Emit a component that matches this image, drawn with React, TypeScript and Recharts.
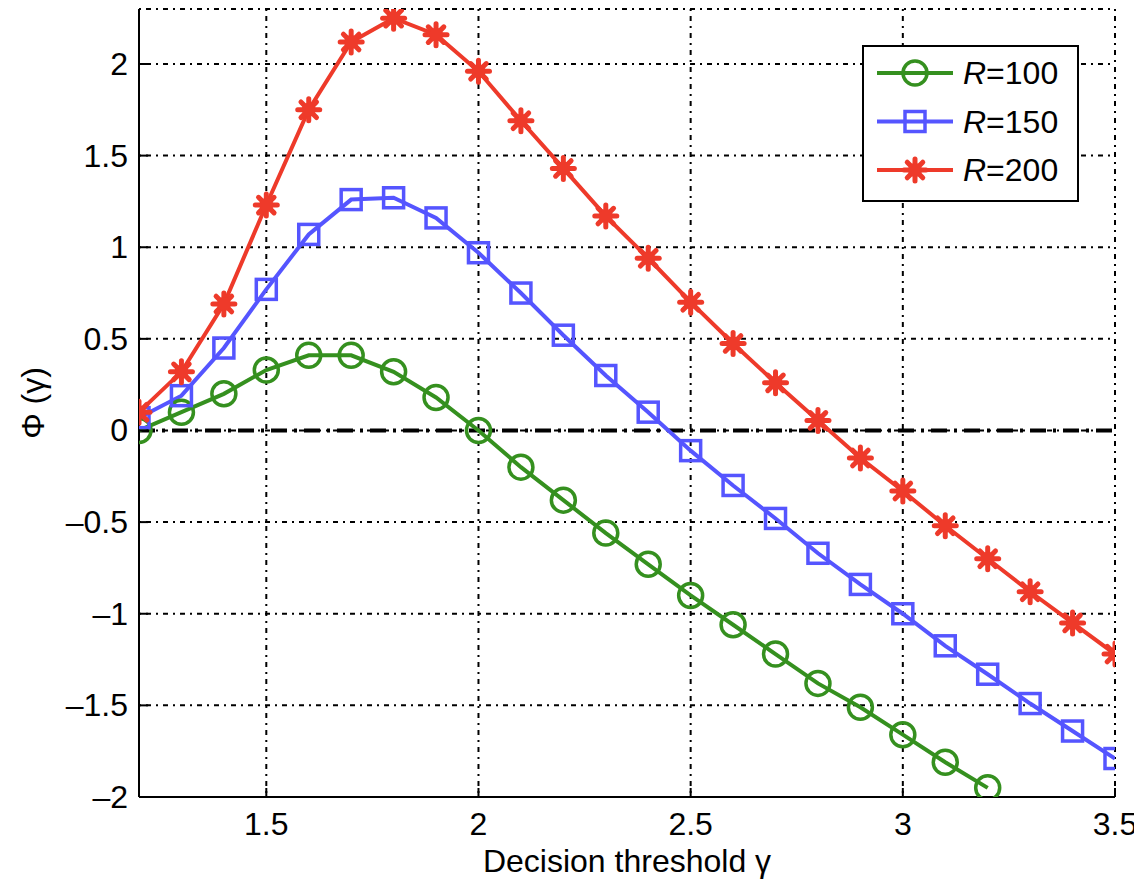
import React from "react";
import {
  LineChart,
  Line,
  XAxis,
  YAxis,
  CartesianGrid,
  ReferenceLine,
  Legend,
} from "recharts";

// decision threshold values (x)
const gamma = [
  1.2, 1.3, 1.4, 1.5, 1.6, 1.7, 1.8, 1.9, 2.0, 2.1, 2.2, 2.3, 2.4, 2.5, 2.6,
  2.7, 2.8, 2.9, 3.0, 3.1, 3.2, 3.3, 3.4, 3.5,
];

// Phi(gamma) for each R
const r100 = [
  0.0, 0.1, 0.2, 0.33, 0.41, 0.41, 0.32, 0.18, 0.0, -0.2, -0.38, -0.56, -0.73,
  -0.9, -1.06, -1.22, -1.38, -1.51, -1.66, -1.81, -1.95,
];
const r150 = [
  0.07, 0.19, 0.45, 0.77, 1.07, 1.26, 1.27, 1.16, 0.97, 0.75, 0.52, 0.3, 0.1,
  -0.11, -0.3, -0.48, -0.67, -0.84, -1.0, -1.175, -1.33, -1.49, -1.64, -1.79,
];
const r200 = [
  0.1, 0.32, 0.69, 1.23, 1.75, 2.12, 2.25, 2.16, 1.96, 1.69, 1.43, 1.17, 0.94,
  0.7, 0.475, 0.26, 0.055, -0.15, -0.33, -0.52, -0.7, -0.88, -1.05, -1.22,
];

const xTicks = [1.5, 2, 2.5, 3, 3.5];
const yTicks = [-2, -1.5, -1, -0.5, 0, 0.5, 1, 1.5, 2];

const FONT = '"Liberation Sans", Arial, Helvetica, sans-serif';
const FS = 32;
const TICK_LEN = 9;

const toRows = (vals: number[]) => vals.map((v, i) => ({ gamma: gamma[i], phi: v }));

type Shape = "circle" | "square" | "star";

const series: { name: string; values: number[]; color: string; shape: Shape }[] = [
  { name: "100", values: r100, color: "#35901f", shape: "circle" },
  { name: "150", values: r150, color: "#5555ff", shape: "square" },
  { name: "200", values: r200, color: "#ee3a2a", shape: "star" },
];

const fmt = (v: number) => (v < 0 ? "\u2013" + String(-v) : String(v));

function marker(shape: Shape, cx: number, cy: number, color: string, key?: React.Key) {
  if (shape === "circle") {
    return <circle key={key} cx={cx} cy={cy} r={12} fill="none" stroke={color} strokeWidth={3.5} />;
  }
  if (shape === "square") {
    return (
      <rect key={key} x={cx - 10} y={cy - 10} width={20} height={20} fill="none" stroke={color} strokeWidth={3.5} />
    );
  }
  const r = 11;
  const d = r * 0.7071;
  return (
    <g key={key} stroke={color} strokeWidth={5} strokeLinecap="round">
      <line x1={cx - r} y1={cy} x2={cx + r} y2={cy} />
      <line x1={cx} y1={cy - r} x2={cx} y2={cy + r} />
      <line x1={cx - d} y1={cy - d} x2={cx + d} y2={cy + d} />
      <line x1={cx - d} y1={cy + d} x2={cx + d} y2={cy - d} />
      <circle cx={cx} cy={cy} r={7} fill={color} stroke="none" />
    </g>
  );
}

const makeDot = (shape: Shape, color: string) => (props: any) => {
  const { cx, cy, index } = props;
  if (cx == null || cy == null) return <g key={index} />;
  return marker(shape, cx, cy, color, index);
};

const LeftTick = (props: any) => {
  const { x, y, payload } = props;
  const ax = x + 11;
  return (
    <g>
      <line x1={ax} y1={y} x2={ax + TICK_LEN} y2={y} stroke="#000" strokeWidth={2} />
      <text x={x} y={y} textAnchor="end" dominantBaseline="central" fontFamily={FONT} fontSize={FS} fill="#000">
        {fmt(payload.value)}
      </text>
    </g>
  );
};

const BottomTick = (props: any) => {
  const { x, y, payload } = props;
  const ay = y - 15;
  return (
    <g>
      <line x1={x} y1={ay} x2={x} y2={ay - TICK_LEN} stroke="#000" strokeWidth={2} />
      <text x={x} y={y + 12} textAnchor="middle" dominantBaseline="central" fontFamily={FONT} fontSize={FS} fill="#000">
        {fmt(payload.value)}
      </text>
    </g>
  );
};

const TopTick = (props: any) => {
  const { x, y } = props;
  return <line x1={x} y1={y} x2={x} y2={y + TICK_LEN} stroke="#000" strokeWidth={2} />;
};

const RightTick = (props: any) => {
  const { x, y } = props;
  return <line x1={x} y1={y} x2={x - TICK_LEN} y2={y} stroke="#000" strokeWidth={2} />;
};

const YLabel = (props: any) => {
  const vb = props.viewBox || {};
  const x = vb.x + 25;
  const y = vb.y + vb.height / 2;
  return (
    <text
      x={x}
      y={y}
      transform={`rotate(-90, ${x}, ${y})`}
      textAnchor="middle"
      dominantBaseline="central"
      fontFamily={FONT}
      fontSize={FS}
      fill="#000"
    >
      {"\u03A6 (\u03B3)"}
    </text>
  );
};

const XLabel = (props: any) => {
  const vb = props.viewBox || {};
  const x = vb.x + vb.width / 2;
  const y = vb.y + 75;
  return (
    <text x={x} y={y} textAnchor="middle" fontFamily={FONT} fontSize={FS} fill="#000">
      Decision threshold {"\u03B3"}
    </text>
  );
};

const LegendBox = () => (
  <svg width={217} height={157} style={{ display: "block" }}>
    <rect x={1} y={1} width={215} height={155} fill="#fff" stroke="#000" strokeWidth={2} />
    {series.map((s, i) => {
      const cy = 28 + i * 48.5;
      return (
        <g key={s.name}>
          <line x1={15} y1={cy} x2={91} y2={cy} stroke={s.color} strokeWidth={4} />
          {marker(s.shape, 53, cy, s.color)}
          <text x={101} y={cy} dominantBaseline="central" fontFamily={FONT} fontSize={FS} fill="#000">
            <tspan fontStyle="italic">R</tspan>={s.name}
          </text>
        </g>
      );
    })}
  </svg>
);

export default function App() {
  return (
    <LineChart
      width={1134}
      height={871}
      margin={{ top: 1, right: 27, bottom: 0, left: 0 }}
      style={{ fontFamily: FONT }}
    >
      <CartesianGrid stroke="#000" strokeWidth={2} strokeDasharray="2 5 5 5" xAxisId="x" yAxisId="y" />
      <XAxis
        xAxisId="x"
        dataKey="gamma"
        type="number"
        domain={[1.2, 3.5]}
        ticks={xTicks}
        allowDataOverflow
        height={82}
        tickSize={0}
        tickMargin={15}
        tickLine={false}
        tick={<BottomTick />}
        axisLine={{ stroke: "#000", strokeWidth: 2 }}
        label={<XLabel />}
      />
      <XAxis
        xAxisId="top"
        orientation="top"
        type="number"
        domain={[1.2, 3.5]}
        ticks={xTicks}
        allowDataOverflow
        height={0}
        tickSize={0}
        tickMargin={0}
        tickLine={false}
        tick={<TopTick />}
        axisLine={{ stroke: "#000", strokeWidth: 2 }}
      />
      <YAxis
        yAxisId="y"
        type="number"
        domain={[-2, 2.3]}
        ticks={yTicks}
        allowDataOverflow
        width={131}
        tickSize={0}
        tickMargin={11}
        tickLine={false}
        tick={<LeftTick />}
        axisLine={{ stroke: "#000", strokeWidth: 2 }}
        label={<YLabel />}
      />
      <YAxis
        yAxisId="right"
        orientation="right"
        type="number"
        domain={[-2, 2.3]}
        ticks={yTicks}
        allowDataOverflow
        width={0}
        tickSize={0}
        tickMargin={0}
        tickLine={false}
        tick={<RightTick />}
        axisLine={{ stroke: "#000", strokeWidth: 2 }}
      />
      <ReferenceLine
        xAxisId="x"
        yAxisId="y"
        y={0}
        stroke="#000"
        strokeWidth={4}
        strokeDasharray="16 7 3 7"
      />
      {series.map((s) => (
        <Line
          key={s.name}
          xAxisId="x"
          yAxisId="y"
          data={toRows(s.values)}
          dataKey="phi"
          name={"R=" + s.name}
          type="linear"
          stroke={s.color}
          strokeWidth={4}
          dot={makeDot(s.shape, s.color)}
          activeDot={false}
          isAnimationActive={false}
        />
      ))}
      <Legend
        layout="horizontal"
        verticalAlign="middle"
        align="center"
        content={<LegendBox />}
        wrapperStyle={{ left: 854, top: 37, width: 217, height: 157 }}
      />
    </LineChart>
  );
}
